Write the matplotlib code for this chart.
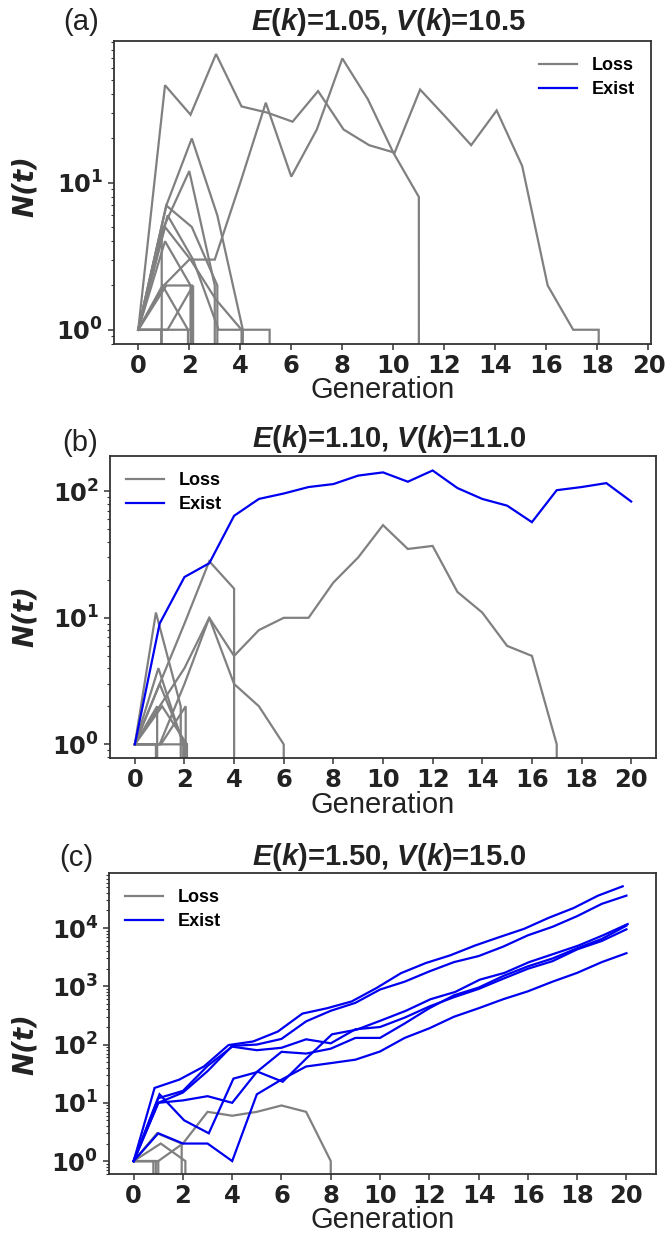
import numpy as np
import matplotlib
matplotlib.use('Agg')
import matplotlib.pyplot as plt
from matplotlib.lines import Line2D
from matplotlib.ticker import NullFormatter

plt.rcParams['font.weight'] = 'bold'
plt.rcParams['mathtext.fontset'] = 'custom'
plt.rcParams['mathtext.it'] = 'Liberation Sans:italic:bold'
plt.rcParams['mathtext.rm'] = 'Liberation Sans:bold'

# N(t) per generation, 0 = lineage lost; dx = small horizontal jitter of each run
a_loss = [
    [1, 46, 29, 75, 33, 30, 26, 42, 23, 18, 16, 43, 28, 18, 31, 13, 2, 1, 1, 0],
    [1, 2, 3, 3, 10, 35, 11, 23, 70, 37, 16, 8, 0],
    [1, 7, 20, 6, 1, 0],
    [1, 5, 12, 2, 0],
    [1, 7, 5, 2, 0],
    [1, 6, 3, 1, 1, 1, 0],
    [1, 5, 3, 1.6, 1, 0],
    [1, 2, 2, 0],
    [1, 1, 2, 0],
    [1, 1, 0],
    [1, 1, 1, 0],
    [1, 4, 2, 0],
    [1, 5, 0],
    [1, 2, 1, 0],
]
a_loss_dx = [0.05, 0.0, 0.1, 0.0, 0.1, 0.15, 0.05, 0.1, 0.15, -0.1, 0.1, 0.05, -0.08, -0.05]
a_exist = []
a_exist_dx = []

b_loss = [
    [1, 2, 4, 10, 5, 8, 10, 10, 19, 30, 54, 35, 37, 16, 11, 6, 5, 1, 0],
    [1, 3, 9, 28, 17, 0],
    [1, 1, 3, 10, 3, 2, 1, 0],
    [1, 11, 2, 0],
    [1, 4, 1, 0],
    [1, 3, 1, 0],
    [1, 2, 1, 0],
    [1, 1, 0],
    [1, 1, 1, 0],
    [1, 2, 0],
    [1, 1, 2, 0],
]
b_loss_dx = [0.0, 0.0, 0.0, -0.15, -0.05, 0.0, 0.1, -0.15, 0.1, -0.1, 0.05]
b_exist = [
    [1, 9, 21, 27, 64, 87, 96, 108, 114, 133, 141, 119, 146, 106, 87, 77, 57, 102, 108, 116, 83],
]
b_exist_dx = [0.0]

c_loss = [
    [1, 1, 2, 7, 6, 7, 9, 7, 1, 0],
    [1, 3, 2, 0],
    [1, 2, 1, 0],
    [1, 1, 0],
    [1, 1, 0],
    [1, 1, 0],
]
c_loss_dx = [0.0, -0.05, 0.1, -0.2, -0.1, 0.0]
c_exist = [
    [1, 18, 25, 42, 98, 113, 167, 340, 420, 550, 930, 1680, 2500, 3400, 5000, 7000, 9700, 15000, 22000, 36000, 52000],
    [1, 10, 15, 35, 95, 100, 125, 250, 380, 520, 880, 1200, 1800, 2600, 3300, 4800, 7500, 10500, 16000, 26000, 36000],
    [1, 14, 5, 3, 26, 34, 23, 60, 150, 180, 260, 380, 600, 800, 1300, 1700, 2600, 3600, 5000, 7500, 11700],
    [1, 10, 11, 13, 10, 34, 75, 70, 85, 130, 130, 230, 420, 700, 950, 1500, 2200, 3000, 4500, 6500, 11000],
    [1, 12, 16, 43, 92, 80, 88, 123, 105, 183, 200, 290, 450, 650, 900, 1350, 2000, 2700, 4300, 6000, 9500],
    [1, 3, 2, 2, 1, 14, 25, 42, 48, 55, 76, 130, 190, 300, 420, 600, 820, 1200, 1700, 2600, 3700],
]
c_exist_dx = [-0.15, 0.0, 0.05, 0.0, 0.0, 0.0]

titles = [r"$E$($k$)=1.05, $V$($k$)=10.5",
          r"$E$($k$)=1.10, $V$($k$)=11.0",
          r"$E$($k$)=1.50, $V$($k$)=15.0"]
panel_tags = ['(a)', '(b)', '(c)']

GRAY = '#808080'
BLUE = '#0000f0'
LW = 1.6
W, H = 669, 1235

fig = plt.figure(figsize=(W / 100, H / 100), dpi=100)

# axes boxes in pixels: left, top, right, bottom
boxes = [(114, 41, 651, 344), (110, 456, 656, 758), (109, 873, 656, 1174)]
ylims = [(0.80, 92), (0.78, 190), (0.6, 88000)]
xlims = [(-0.95, 20.1), (-1.0, 21.0), (-1.0, 21.2)]
legend_locs = ['upper right', 'upper left', 'upper left']
xlabel_off = [46, 47, 46]
title_off = [19, 17, 16]
ylabel_pos = [(-0.166, 0.52), (-0.156, 0.47), (-0.154, 0.43)]
tag_pos = [(81, 22), (80, 443), (76, 858)]

data = [(a_loss, a_loss_dx, a_exist, a_exist_dx),
        (b_loss, b_loss_dx, b_exist, b_exist_dx),
        (c_loss, c_loss_dx, c_exist, c_exist_dx)]


def runs(ax, series, shifts, color):
    for vals, dx in zip(series, shifts):
        t = np.arange(len(vals))
        x = t + np.where(t > 0, dx, 0.0)
        ax.plot(x, vals, color=color, lw=LW, solid_joinstyle='miter')


for i in range(3):
    l, t, r, b = boxes[i]
    ax = fig.add_axes([l / W, 1 - b / H, (r - l) / W, (b - t) / H])
    ax.set_yscale('log', nonpositive='clip')
    loss, loss_dx, exist, exist_dx = data[i]
    runs(ax, loss, loss_dx, GRAY)
    runs(ax, exist, exist_dx, BLUE)

    ax.set_xlim(*xlims[i])
    ax.set_ylim(*ylims[i])
    ax.set_xticks(range(0, 21, 2))
    ax.yaxis.set_minor_formatter(NullFormatter())

    ax.tick_params(axis='both', which='major', labelsize=17.5, length=4.5,
                   width=1.1, color='#333333', labelcolor='#222222', pad=3)
    ax.tick_params(axis='y', which='minor', length=2.5, width=0.8, color='#333333')
    for s in ax.spines.values():
        s.set_linewidth(1.3)
        s.set_color('#333333')

    h = b - t
    ax.set_title(titles[i], fontsize=21, family='Liberation Sans', fontweight='bold',
                 x=0.512, y=1 + title_off[i] / h, pad=0, va='center', color='#222222')
    ax.set_xlabel('Generation', fontsize=21, family='Liberation Sans',
                  fontweight='normal', color='#222222')
    ax.xaxis.label.set_va('center')
    ax.xaxis.set_label_coords(0.5, -xlabel_off[i] / h)
    ax.set_ylabel('N(t)', fontsize=20, fontstyle='italic', fontweight='bold',
                  color='#222222')
    ax.yaxis.label.set_va('center')
    ax.yaxis.set_label_coords(*ylabel_pos[i])

    handles = [Line2D([], [], color=GRAY, lw=LW), Line2D([], [], color=BLUE, lw=LW)]
    ax.legend(handles, ['Loss', 'Exist'], loc=legend_locs[i], frameon=False,
              prop=dict(family='Liberation Sans', weight='bold', size=13),
              handlelength=2.1, handletextpad=0.8, labelspacing=0.4)

    fig.text(tag_pos[i][0] / W, 1 - tag_pos[i][1] / H, panel_tags[i], fontsize=21,
             family='Liberation Sans', fontweight='normal', color='#222222',
             ha='center', va='center')

fig.savefig('out.png', dpi=100)
